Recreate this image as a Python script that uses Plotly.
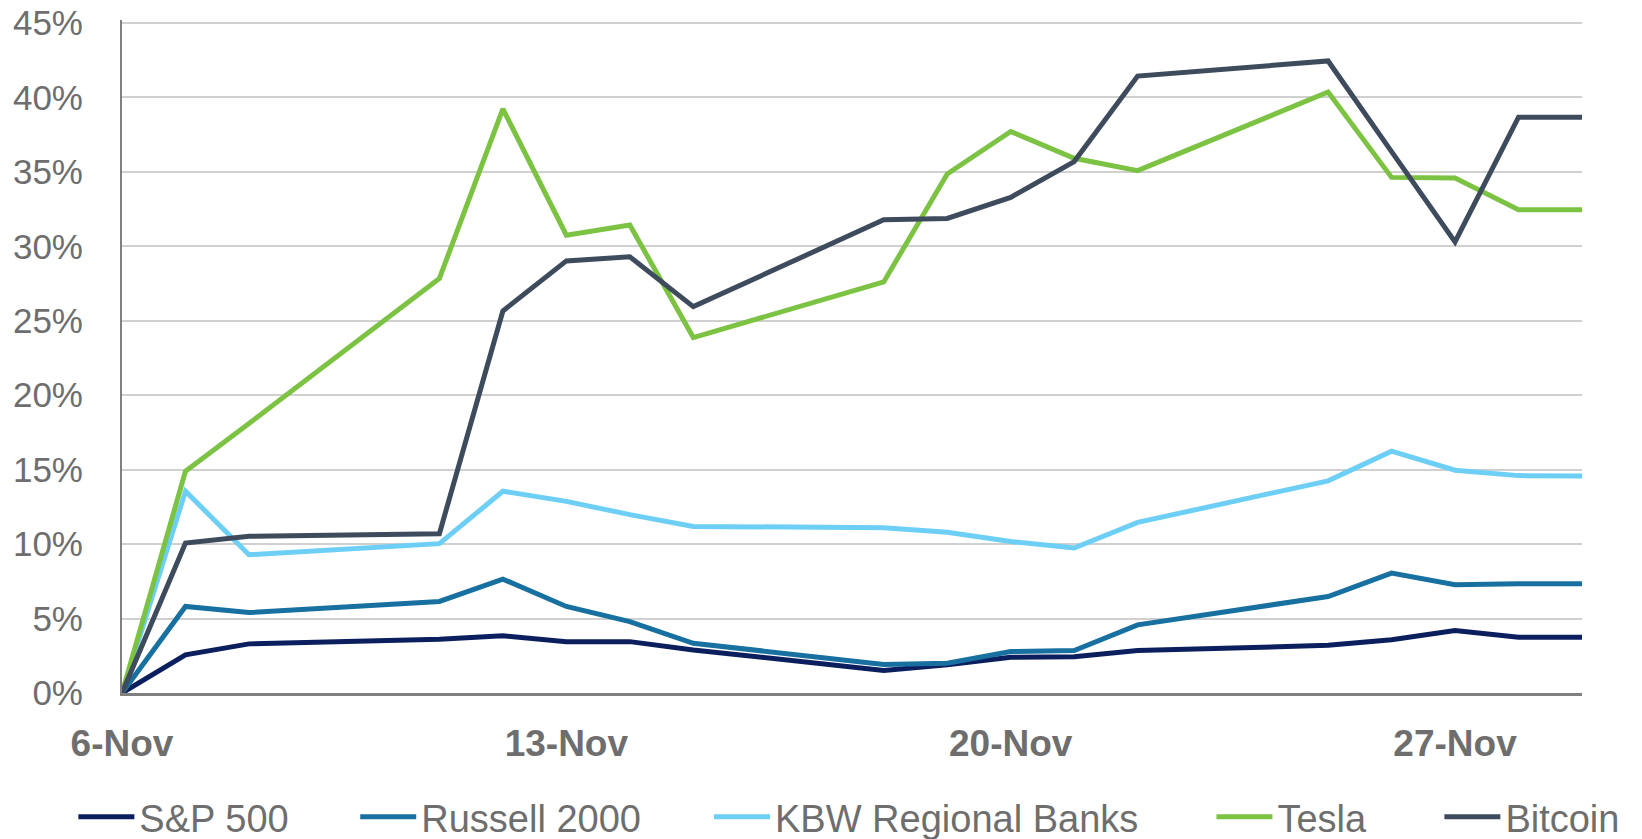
import plotly.graph_objects as go

dates = ["2024-11-06", "2024-11-07", "2024-11-08", "2024-11-11", "2024-11-12", "2024-11-13",
         "2024-11-14", "2024-11-15", "2024-11-18", "2024-11-19", "2024-11-20", "2024-11-21",
         "2024-11-22", "2024-11-25", "2024-11-26", "2024-11-27", "2024-11-28", "2024-11-29"]

sp500 = [0, 2.56, 3.30, 3.61, 3.84, 3.45, 3.45, 2.89, 1.52, 1.90, 2.40, 2.44, 2.85, 3.20, 3.57, 4.19, 3.75, 3.75]
russell2000 = [0, 5.81, 5.40, 6.15, 7.65, 5.81, 4.80, 3.34, 1.92, 2.00, 2.78, 2.85, 4.58, 6.48, 8.05, 7.27, 7.33, 7.33]
kbw_banks = [0, 13.55, 9.29, 10.03, 13.55, 12.87, 11.98, 11.19, 11.10, 10.79, 10.18, 9.74, 11.46, 14.25, 16.24, 14.96, 14.60, 14.58]
tesla = [0, 14.9, 18.1, 27.84, 39.23, 30.75, 31.43, 23.87, 27.61, 34.86, 37.71, 35.91, 35.08, 40.36, 34.63, 34.59, 32.46, 32.46]
bitcoin = [0, 10.07, 10.52, 10.70, 25.66, 29.02, 29.30, 25.95, 31.78, 31.87, 33.29, 35.69, 41.43, 42.45, 36.36, 30.30, 38.67, 38.67]

series_names = ["S&P 500", "Russell 2000", "KBW Regional Banks", "Tesla", "Bitcoin"]
series_values = [sp500, russell2000, kbw_banks, tesla, bitcoin]
series_colors = ["#0b1f5e", "#17709f", "#6dcff6", "#7cc243", "#3d4b5c"]
legend_ids = ["legend", "legend2", "legend3", "legend4", "legend5"]
legend_x = [0.0400, 0.2125, 0.4290, 0.7365, 0.8760]

tick_dates = ["2024-11-06", "2024-11-13", "2024-11-20", "2024-11-27"]
tick_labels = ["6-Nov", "13-Nov", "20-Nov", "27-Nov"]
y_ticks = [0, 5, 10, 15, 20, 25, 30, 35, 40, 45]
y_tick_labels = ["0%", "5%", "10%", "15%", "20%", "25%", "30%", "35%", "40%", "45%"]

GRAY = "#6e6e6e"
FONT = "Liberation Sans, Arial, sans-serif"

fig = go.Figure()
for name, vals, col, lg in zip(series_names, series_values, series_colors, legend_ids):
    fig.add_trace(go.Scatter(x=dates, y=vals, name=name, mode="lines",
                             line=dict(color=col, width=5), legend=lg))

layout_legends = {}
for lg, lx in zip(legend_ids, legend_x):
    layout_legends[lg] = dict(x=lx, xanchor="left", xref="container",
                              y=0.0265, yanchor="middle", yref="container",
                              orientation="h", bgcolor="rgba(0,0,0,0)",
                              font=dict(family=FONT, size=38, color=GRAY),
                              itemwidth=56, tracegroupgap=0)

# the page body adds an 8px offset, so the figure is 8px smaller in each direction
fig.update_layout(
    width=1634, height=831,
    margin=dict(l=114, r=60, t=12, b=146, autoexpand=False),
    paper_bgcolor="white", plot_bgcolor="white",
    showlegend=True,
    xaxis=dict(type="date", range=["2024-11-06", "2024-11-29"],
               tickvals=tick_dates, ticktext=tick_labels, automargin=False,
               showgrid=False, showline=True, linecolor="#808080", linewidth=2.5,
               ticks="", ticklabelstandoff=16, zeroline=False, ticklabeloverflow="allow",
               tickfont=dict(family=FONT, size=37, color=GRAY, weight="bold")),
    yaxis=dict(range=[0, 45.2], tickvals=y_ticks, ticktext=y_tick_labels, automargin=False,
               showgrid=True, gridcolor="#d0d0d0", gridwidth=1.5,
               showline=True, linecolor="#808080", linewidth=2, zeroline=False,
               ticks="", ticklabelstandoff=30, ticklabeloverflow="allow",
               tickfont=dict(family=FONT, size=35, color=GRAY)),
    **layout_legends,
)

fig.write_html("out.html")
